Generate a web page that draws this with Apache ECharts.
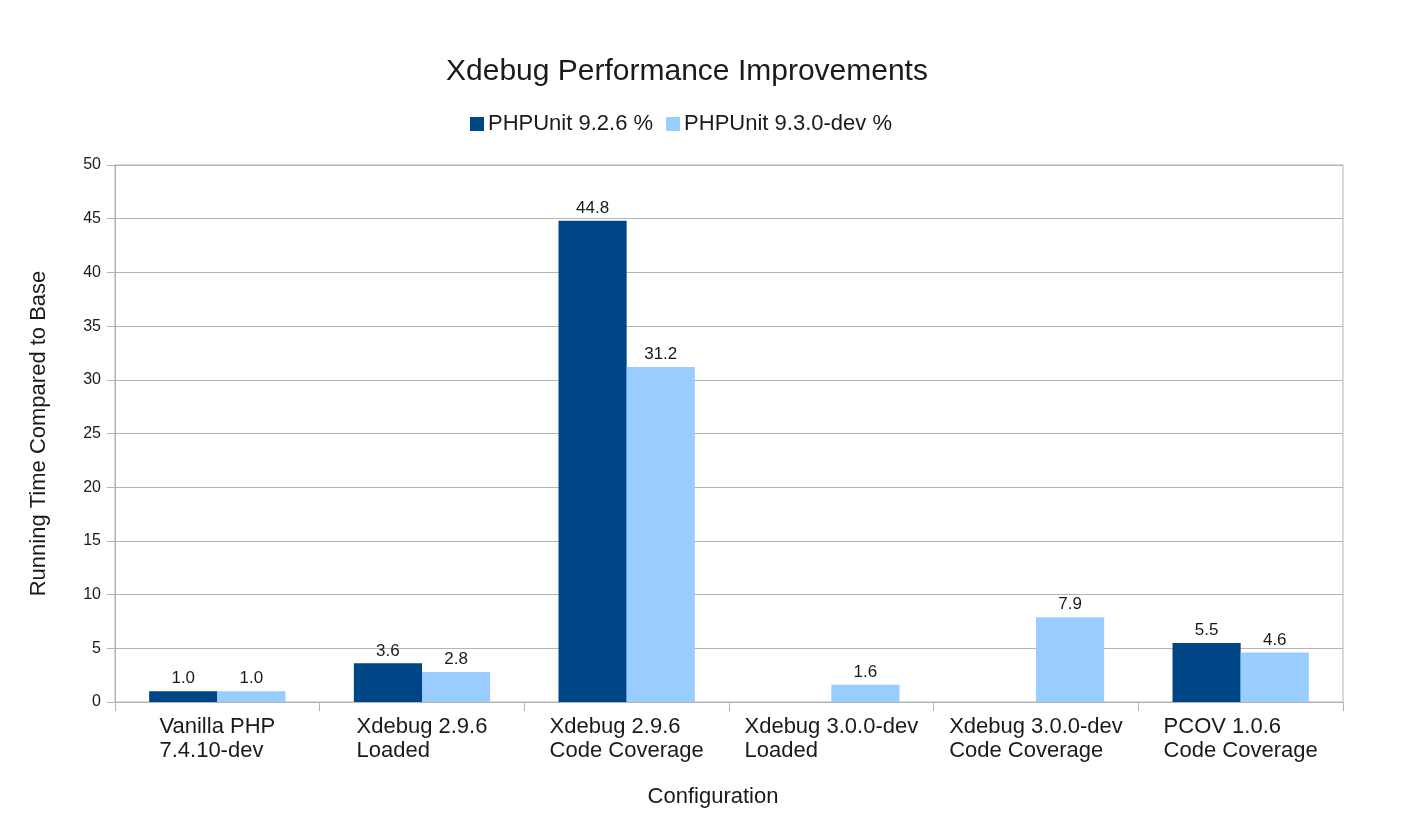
<!DOCTYPE html>
<html>
<head>
<meta charset="utf-8">
<script src="https://cdn.jsdelivr.net/npm/echarts@6/dist/echarts.min.js"></script>
<style>
html,body{margin:0;padding:0;background:#fff;}
#chart{width:1413px;height:832px;}
</style>
</head>
<body>
<div id="chart"></div>
<script>
const categories = [
  "Vanilla PHP\n7.4.10-dev",
  "Xdebug 2.9.6\nLoaded",
  "Xdebug 2.9.6\nCode Coverage",
  "Xdebug 3.0.0-dev\nLoaded",
  "Xdebug 3.0.0-dev\nCode Coverage",
  "PCOV 1.0.6\nCode Coverage"
];
const seriesNames = ["PHPUnit 9.2.6 %", "PHPUnit 9.3.0-dev %"];
const phpunit926 = [1.0, 3.6, 44.8, null, null, 5.5];
const phpunit930 = [1.0, 2.8, 31.2, 1.6, 7.9, 4.6];
const yTicks = { min: 0, max: 50, interval: 5 };

const FONT = '"Liberation Sans", Arial, sans-serif';
const TXT = '#1a1a1a';
const GRID = '#b3b3b3';

const chart = echarts.init(document.getElementById('chart'), null, {renderer: 'canvas'});

const labelOpt = {
  show: true,
  position: 'top',
  distance: 4,
  color: TXT,
  fontFamily: FONT,
  fontSize: 17,
  formatter: p => (p.value == null ? '' : Number(p.value).toFixed(1))
};

chart.setOption({
  backgroundColor: '#ffffff',
  animation: false,
  title: {
    text: 'Xdebug Performance Improvements',
    left: 682,
    textAlign: 'center',
    top: 52,
    textStyle: { fontFamily: FONT, fontSize: 30, fontWeight: 'normal', color: TXT }
  },
  legend: {
    data: seriesNames,
    left: 465,
    top: 108,
    itemWidth: 14,
    itemHeight: 14,
    itemGap: 13,
    icon: 'rect',
    textStyle: { fontFamily: FONT, fontSize: 22, color: TXT, padding: [0, 0, 0, -1] }
  },
  grid: {
    left: 115, right: 70, top: 165, bottom: 130,
    show: true, borderColor: GRID, borderWidth: 1
  },
  xAxis: {
    type: 'category',
    data: categories,
    name: 'Configuration',
    nameLocation: 'middle',
    nameGap: 84,
    nameTextStyle: { fontFamily: FONT, fontSize: 22, color: TXT, padding: [0, 32, 0, 0] },
    axisLine: { lineStyle: { color: GRID } },
    axisTick: { show: true, length: 9, lineStyle: { color: GRID } },
    axisLabel: {
      interval: 0,
      margin: 13,
      fontFamily: FONT,
      fontSize: 22,
      color: TXT,
      lineHeight: 24,
      formatter: v => v.split('\n').map(s => '{a|' + s + '}').join('\n'),
      rich: { a: { align: 'left', fontFamily: FONT, fontSize: 22, color: TXT, lineHeight: 24 } }
    }
  },
  yAxis: {
    type: 'value',
    min: yTicks.min, max: yTicks.max, interval: yTicks.interval,
    name: 'Running Time Compared to Base',
    nameLocation: 'middle',
    nameGap: 65,
    nameTextStyle: { fontFamily: FONT, fontSize: 22, color: TXT },
    axisLine: { show: true, lineStyle: { color: GRID } },
    axisTick: { show: true, length: 8, lineStyle: { color: GRID } },
    axisLabel: { margin: 14, fontFamily: FONT, fontSize: 16, color: TXT },
    splitLine: { lineStyle: { color: GRID } }
  },
  series: [
    {
      name: seriesNames[0], type: 'bar', data: phpunit926,
      barWidth: '33.3%', barGap: '0%',
      itemStyle: { color: '#004586' },
      label: labelOpt
    },
    {
      name: seriesNames[1], type: 'bar', data: phpunit930,
      barWidth: '33.3%', barGap: '0%',
      itemStyle: { color: '#99ccff' },
      label: labelOpt
    }
  ]
});
</script>
</body>
</html>
